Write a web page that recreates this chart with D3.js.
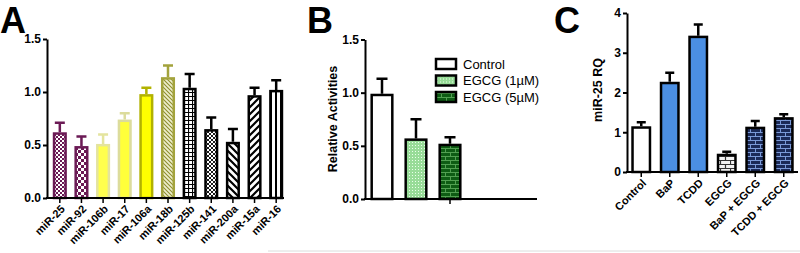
<!DOCTYPE html>
<html>
<head>
<meta charset="UTF-8">
<title>miR panels</title>
<script src="https://cdnjs.cloudflare.com/ajax/libs/d3/7.8.5/d3.min.js"></script>
<style>
    body { margin: 0; background: #fff; }
    svg { display: block; font-family: Arial, "Liberation Sans", sans-serif; }
    .tick text { font-size: 12px; font-weight: bold; fill: #000; }
    .xlab { font-size: 11px; font-weight: bold; }
    .panel { font-size: 36px; font-weight: bold; }
    .ylab { font-size: 12.5px; font-weight: bold; }
    .leg { font-size: 13px; }
</style>
</head>
<body>
<script>
    // ---- data ----
    var catA = ["miR-25", "miR-92", "miR-106b", "miR-17", "miR-106a", "miR-18b",
        "miR-125b", "miR-141", "miR-200a", "miR-15a", "miR-16"];
    var valA = [0.62, 0.49, 0.51, 0.74, 0.98, 1.14, 1.04, 0.65, 0.53, 0.97, 1.02];
    var semA = [0.09, 0.09, 0.09, 0.06, 0.06, 0.11, 0.13, 0.11, 0.12, 0.07, 0.09];
    var ticksA = [0, 0.5, 1.0, 1.5];

    var catB = ["Control", "EGCG (1\u00b5M)", "EGCG (5\u00b5M)"];
    var valB = [0.99, 0.57, 0.52];
    var semB = [0.14, 0.18, 0.06];
    var ticksB = [0, 0.5, 1.0, 1.5];

    var catC = ["Control", "BaP", "TCDD", "EGCG", "BaP + EGCG", "TCDD + EGCG"];
    var valC = [1.15, 2.27, 3.43, 0.46, 1.14, 1.38];
    var semC = [0.10, 0.23, 0.28, 0.05, 0.14, 0.07];
    var ticksC = [0, 1, 2, 3, 4];

    var width = 800, height = 253;
    var svg = d3.select("body").append("svg").attr("width", width).attr("height", height);
    var defs = svg.append("defs");

    // ---- fill patterns ----
    function pat(id, w, h, bg) {
        var p = defs.append("pattern").attr("id", id)
            .attr("patternUnits", "userSpaceOnUse").attr("width", w).attr("height", h);
        p.append("rect").attr("width", w).attr("height", h).attr("fill", bg);
        return p;
    }
    var purple = "#6b1a55";
    var p1 = pat("chkFine", 4, 4, "#fff");
    p1.append("rect").attr("width", 2).attr("height", 2).attr("fill", purple);
    p1.append("rect").attr("x", 2).attr("y", 2).attr("width", 2).attr("height", 2).attr("fill", purple);
    var p2 = pat("chkBig", 6, 6, "#fff");
    p2.append("rect").attr("width", 3).attr("height", 3).attr("fill", purple);
    p2.append("rect").attr("x", 3).attr("y", 3).attr("width", 3).attr("height", 3).attr("fill", purple);
    pat("hatchOlive", 4, 4, "#eeeecc").append("path")
        .attr("d", "M-1,-1L5,5M-1,3L1,5M3,-1L5,1").attr("stroke", "#8e8e2e").attr("stroke-width", 1.1);
    pat("grid", 4, 4, "#fff").append("path")
        .attr("d", "M0,0.5H4M0.5,0V4").attr("stroke", "#000").attr("stroke-width", 1.2);
    pat("crossDense", 4, 4, "#fff").append("path")
        .attr("d", "M-1,-1L5,5M-1,3L1,5M3,-1L5,1M-1,5L5,-1M-1,1L1,-1M3,5L5,3")
        .attr("stroke", "#000").attr("stroke-width", 0.9);
    pat("back", 7, 7, "#fff").append("path")
        .attr("d", "M-1,-1L8,8M-1,6L1,8M6,-1L8,1").attr("stroke", "#000").attr("stroke-width", 2.2);
    pat("fwd", 7, 7, "#fff").append("path")
        .attr("d", "M-1,8L8,-1M-1,1L1,-1M6,8L8,6").attr("stroke", "#000").attr("stroke-width", 2.2);
    pat("vert", 5, 5, "#fff").append("rect").attr("width", 2).attr("height", 5).attr("fill", "#000");
    var pd = pat("dots", 3, 3, "#98dc98");
    pd.append("rect").attr("x", 1).attr("y", 1).attr("width", 1).attr("height", 1).attr("fill", "#eaffea");
    function brick(id, bg, line, sw) {
        pat(id, 10, 8, bg).append("path")
            .attr("d", "M0,0.5H10M0,4.5H10M0.5,0.5V4.5M5.5,4.5V8.5")
            .attr("stroke", line).attr("stroke-width", sw).attr("fill", "none");
    }
    brick("brickGreen", "#0e5c14", "#52a052", 1);
    brick("brickGray", "#f2f2f2", "#333", 1.2);
    brick("brickNavy", "#1b2a58", "#7a9ad8", 1);

    // ---- generic bar panel ----
    function panel(o) {
        var g = svg.append("g");
        var x = d3.scaleBand().domain(o.cats).range(o.xr)
            .paddingInner(o.pin).paddingOuter(o.pout);
        var y = d3.scaleLinear().domain(o.ydom).range(o.yr);

        var yAx = g.append("g").attr("transform", "translate(" + o.axisX + ",0)")
            .call(d3.axisLeft(y).tickValues(o.ticks).tickFormat(o.fmt)
                .tickSize(4).tickSizeOuter(0).tickPadding(2));
        yAx.select(".domain").attr("stroke-width", 2);
        yAx.selectAll(".tick line").attr("stroke-width", 2);

        var bars = g.selectAll(".bar").data(o.cats).enter().append("g");
        // error bars (upper only)
        bars.append("path")
            .attr("d", function (d, i) {
                var cx = x(d) + x.bandwidth() / 2, top = y(o.vals[i] + o.sem[i]);
                return "M" + cx + "," + y(o.vals[i]) + "V" + top +
                    "M" + (cx - o.cap / 2) + "," + top + "H" + (cx + o.cap / 2);
            })
            .attr("stroke", function (d, i) { return o.stroke[i]; })
            .attr("stroke-width", 2.5).attr("fill", "none");
        bars.append("rect")
            .attr("x", function (d) { return x(d) + 1.25; })
            .attr("y", function (d, i) { return y(o.vals[i]) + 1.25; })
            .attr("width", x.bandwidth() - 2.5)
            .attr("height", function (d, i) { return y(0) - y(o.vals[i]) - 1.25; })
            .attr("fill", function (d, i) { return o.fill[i]; })
            .attr("stroke", function (d, i) { return o.stroke[i]; })
            .attr("stroke-width", 2.5);

        // x axis
        var xAx = g.append("g").attr("transform", "translate(0," + y(0) + ")")
            .call(d3.axisBottom(x).tickValues(o.xticks).tickSize(5).tickSizeOuter(0).tickFormat(""));
        xAx.select(".domain").remove();
        xAx.selectAll(".tick line").attr("stroke-width", 1.5);
        g.append("line").attr("x1", o.axisX - 1).attr("x2", o.xEnd)
            .attr("y1", y(0)).attr("y2", y(0)).attr("stroke", "#000").attr("stroke-width", 2);

        if (o.labels) {
            g.selectAll(".xlab").data(o.cats).enter().append("text").attr("class", "xlab")
                .attr("text-anchor", "end")
                .attr("transform", function (d) {
                    return "translate(" + (x(d) + x.bandwidth() / 2 + 3) + "," + (y(0) + 9) + ") rotate(-45)";
                })
                .attr("dy", "0.35em")
                .text(function (d) { return d; });
        }
        return { x: x, y: y };
    }

    // panel A
    panel({
        cats: catA, vals: valA, sem: semA, ticks: ticksA, fmt: d3.format(".1f"),
        xr: [49, 287], pin: 0.35, pout: 0.175, ydom: [0, 1.5], yr: [198, 39],
        axisX: 47, xEnd: 284, cap: 10, labels: true, xticks: catA,
        fill: ["url(#chkFine)", "url(#chkBig)", "#ffff4d", "#ffff3a", "#ffff00", "url(#hatchOlive)",
            "url(#grid)", "url(#crossDense)", "url(#back)", "url(#fwd)", "url(#vert)"],
        stroke: [purple, purple, "#e4e49e", "#dcdc9c", "#b2b200", "#a3a33c",
            "#000", "#000", "#000", "#000", "#000"]
    });

    // panel B
    var fillB = ["#fff", "url(#dots)", "url(#brickGreen)"];
    panel({
        cats: catB, vals: valB, sem: semB, ticks: ticksB, fmt: d3.format(".1f"),
        xr: [365, 467], pin: 0.32, pout: 0.16, ydom: [0, 1.5], yr: [199, 39.5],
        axisX: 365, xEnd: 537, cap: 11, labels: false, xticks: [catB[2]],
        fill: fillB, stroke: ["#000", "#000", "#000"]
    });
    svg.append("text").attr("class", "ylab").attr("text-anchor", "middle")
        .attr("transform", "translate(337,119) rotate(-90)").text("Relative Activities");
    var leg = svg.append("g").selectAll("g").data(catB).enter().append("g")
        .attr("transform", function (d, i) { return "translate(436," + (64 + i * 16.5) + ")"; });
    leg.append("rect").attr("x", 0).attr("y", -5).attr("width", 20).attr("height", 10)
        .attr("fill", function (d, i) { return fillB[i]; }).attr("stroke", "#000").attr("stroke-width", 2.5);
    leg.append("text").attr("class", "leg").attr("x", 27).attr("dy", "0.36em")
        .text(function (d) { return d; });

    // panel C
    panel({
        cats: catC, vals: valC, sem: semC, ticks: ticksC, fmt: d3.format("d"),
        xr: [627, 798], pin: 0.3, pout: 0.15, ydom: [0, 4], yr: [172, 13],
        axisX: 627, xEnd: 798, cap: 9, labels: true, xticks: catC,
        fill: ["#fff", "#4b8fe3", "#4b8fe3", "url(#brickGray)", "url(#brickNavy)", "url(#brickNavy)"],
        stroke: ["#000", "#000", "#000", "#000", "#000", "#000"]
    });
    svg.append("text").attr("class", "ylab").attr("text-anchor", "middle")
        .attr("transform", "translate(602,90) rotate(-90)").text("miR-25 RQ");

    // panel letters
    svg.selectAll(".panel").data([["A", 0], ["B", 307], ["C", 554]]).enter().append("text")
        .attr("class", "panel").attr("x", function (d) { return d[1]; }).attr("y", 33)
        .text(function (d) { return d[0]; });

    // faint frame line at the bottom
    svg.append("line").attr("x1", 268).attr("x2", 800).attr("y1", 251).attr("y2", 251)
        .attr("stroke", "#dcdcdc").attr("stroke-width", 1);
</script>
</body>
</html>
